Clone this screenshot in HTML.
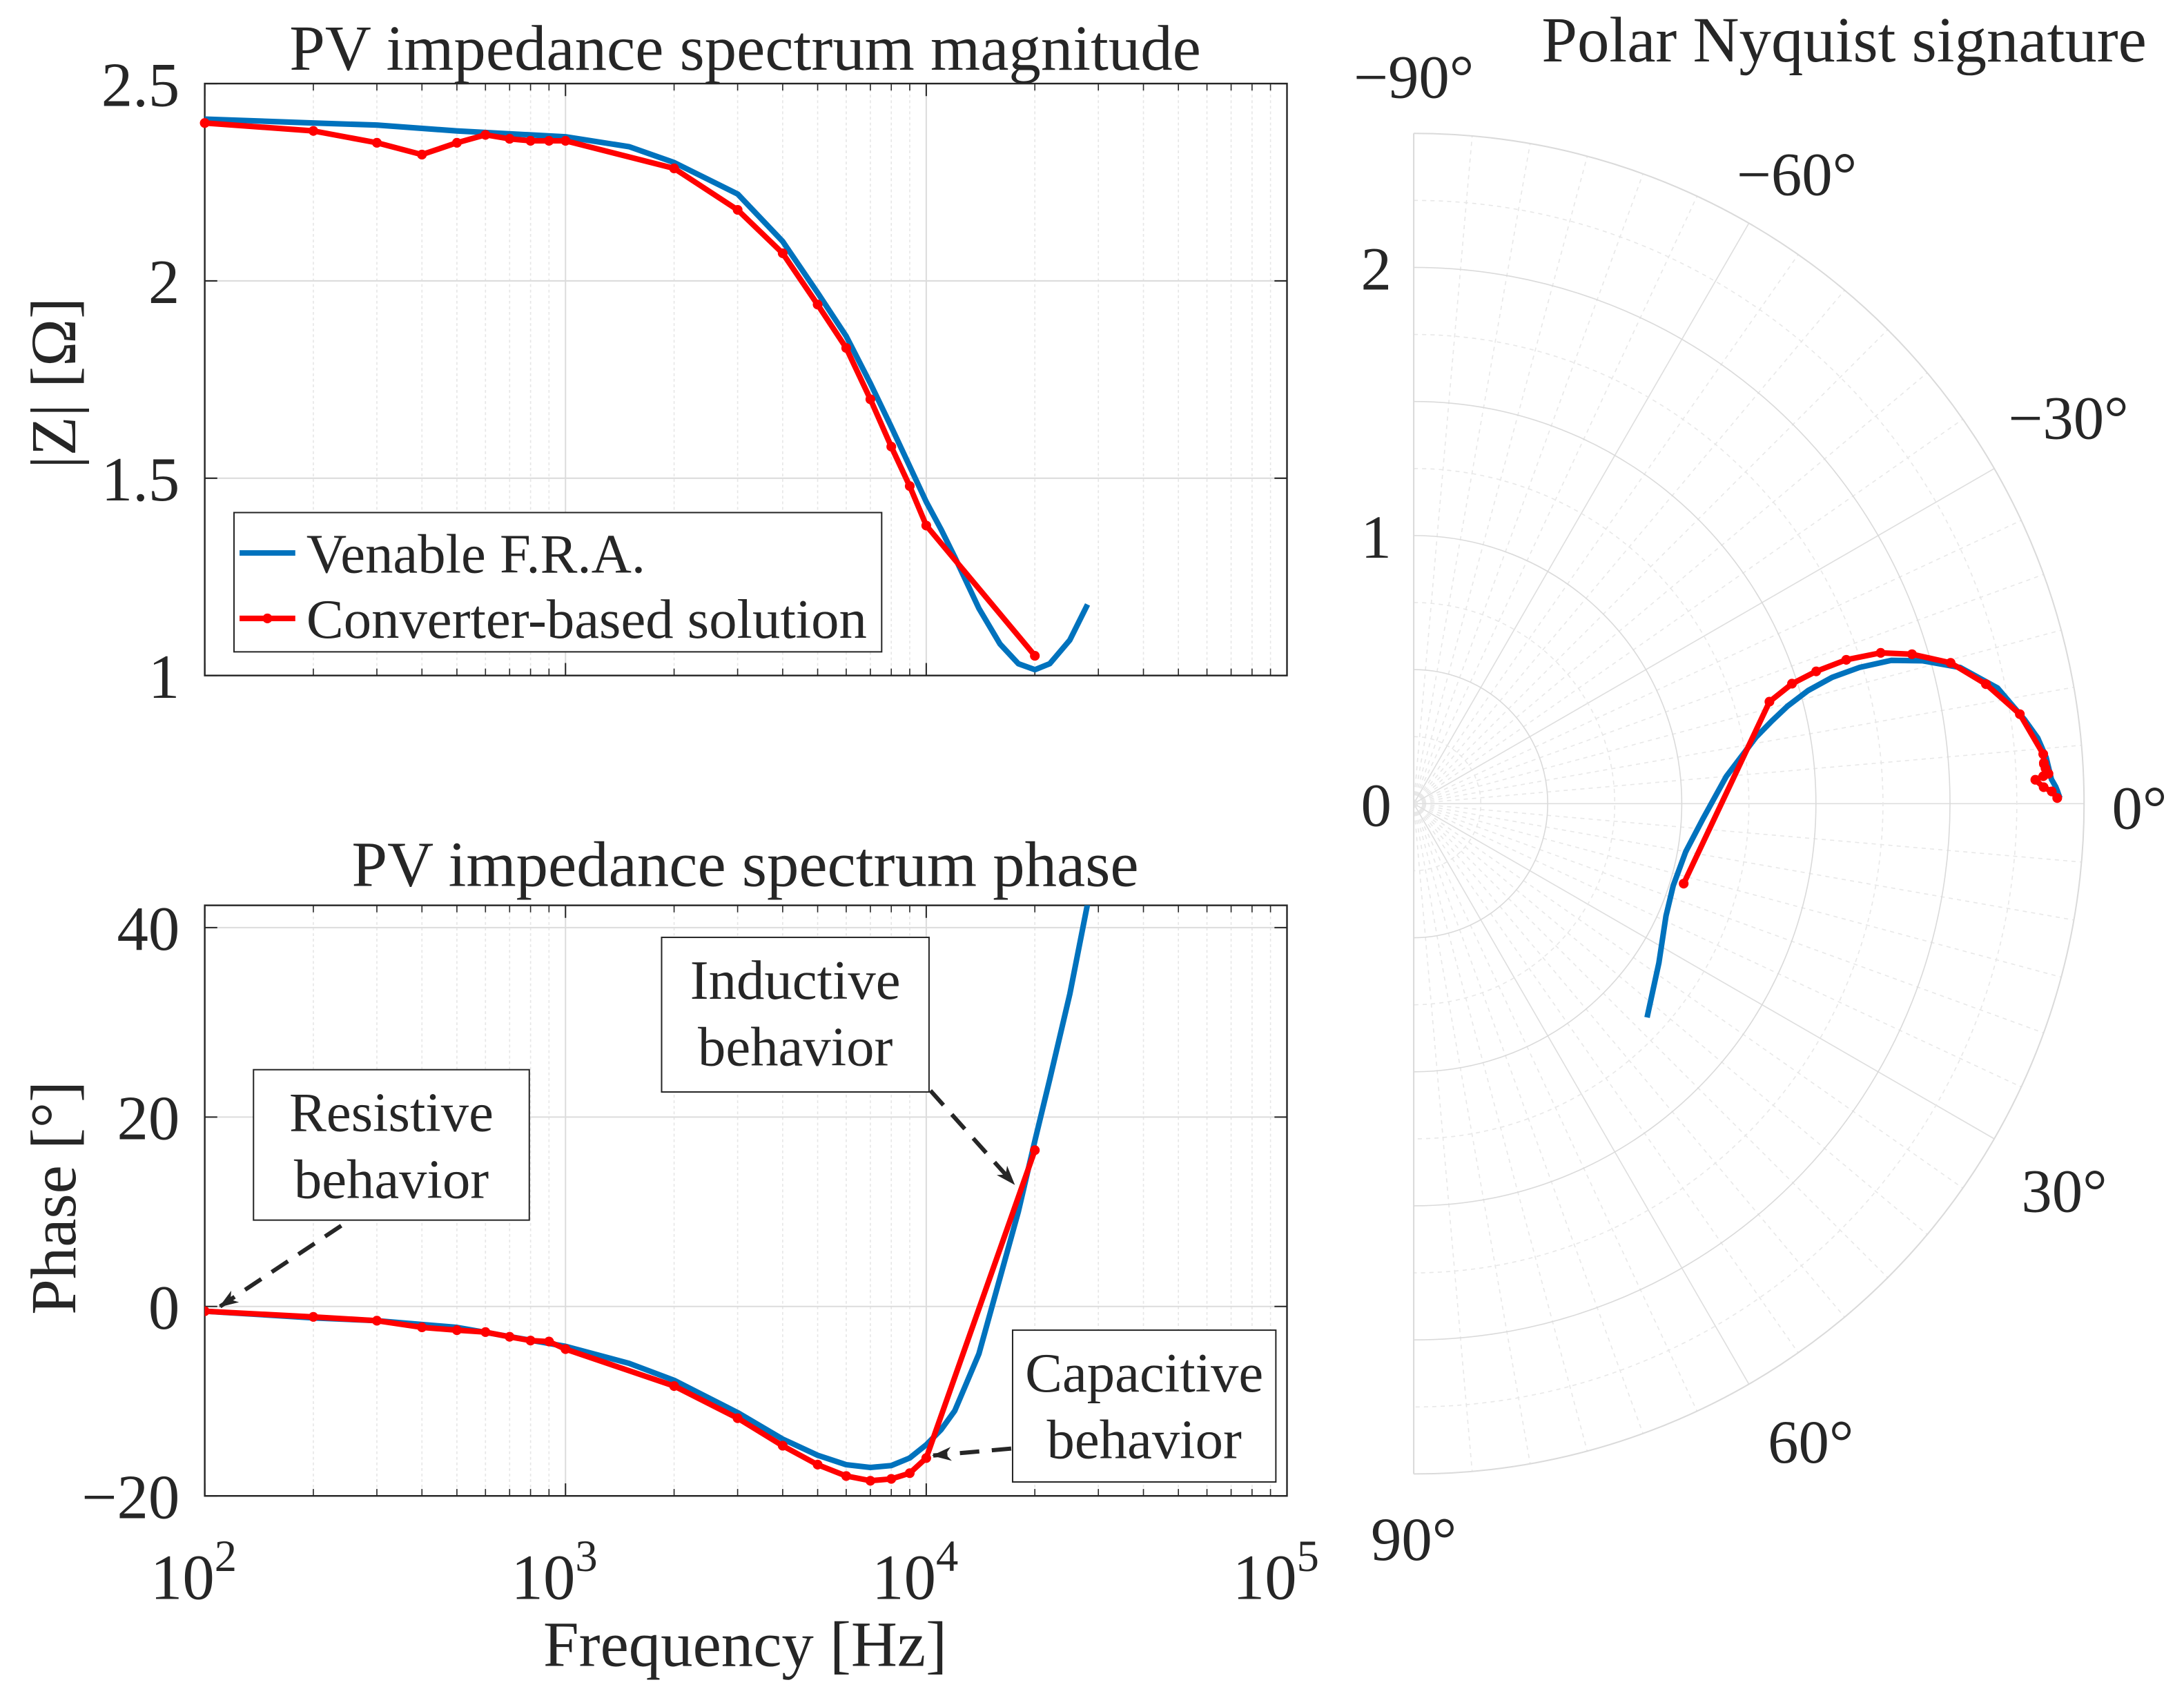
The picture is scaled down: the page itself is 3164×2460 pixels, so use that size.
<!DOCTYPE html>
<html><head><meta charset="utf-8"><style>
html,body{margin:0;padding:0;background:#fff;}
svg{display:block;}
text{font-family:"Liberation Serif",serif;fill:#262626;}
</style></head>
<body>
<svg id="fig" width="3164" height="2460" viewBox="0 0 1568 1219.1" preserveAspectRatio="none" xmlns="http://www.w3.org/2000/svg">
<g id="g-mag"></g>
<g id="g-ph"></g>
<g id="g-pol"></g>
</svg>
<script>
// ---- data ----
const redFreq = [100,200,300,400,500,600,700,800,900,1000,2000,3000,4000,5000,6000,7000,8000,9000,10000,20000];
const redMag = [2.40,2.38,2.35,2.32,2.35,2.37,2.36,2.355,2.355,2.355,2.285,2.18,2.07,1.94,1.83,1.70,1.58,1.48,1.38,1.05];
const redPhase = [-0.5,-1.1,-1.5,-2.2,-2.5,-2.7,-3.2,-3.6,-3.7,-4.5,-8.4,-11.8,-14.7,-16.7,-17.9,-18.4,-18.2,-17.6,-16.0,16.5];
const blueFreq = [100,200,300,500,1000,1500,2000,3000,4000,5000,6000,7000,8000,9000,10000,11000,12000,14000,16000,18000,20000,22000,25000,28000];
const blueMag = [2.41,2.40,2.395,2.38,2.365,2.34,2.30,2.22,2.10,1.97,1.86,1.74,1.63,1.53,1.44,1.37,1.30,1.17,1.08,1.03,1.015,1.03,1.09,1.18];
const bluePhase = [-0.5,-1.2,-1.5,-2.2,-4.2,-6,-7.8,-11.2,-14.0,-15.7,-16.7,-17.0,-16.8,-16.0,-14.6,-13,-11,-5,3,10,17.5,24,33,42.5];
const magTicks = [1,1.5,2,2.5];
const magTickLabels = ["1","1.5","2","2.5"];
const phTicks = [-20,0,20,40];
const phTickLabels = ["\u221220","0","20","40"];
const decades = [2,3,4,5];
const polarRTicks = [0,1,2];
const polarAngTicks = [-90,-60,-30,0,30,60,90];

const NS = "http://www.w3.org/2000/svg";
function mk(parent, tag, attrs){const e=document.createElementNS(NS,tag);for(const k in attrs)e.setAttribute(k,attrs[k]);parent.appendChild(e);return e;}

const X0=147,X1=924;
function xs(f){return X0+(Math.log10(f)-2)*(X1-X0)/3;}
function ym(v){return 485-(v-1)*(425/1.5);}
function yp(v){return 938-v*(136/20);}

function axesFrame(g,top,bot,yTicks,yLabels,yf,title,titleY,ylab,ylabY,showX){
  for(let d=2;d<5;d++)for(let m=2;m<10;m++){
    const x=xs(m*Math.pow(10,d));
    const l=mk(g,'line',{x1:x,x2:x,y1:top,y2:bot,stroke:'#e6e6e6','stroke-width':0.8,'stroke-dasharray':'2,2'});
    
    
    mk(g,'line',{x1:x,x2:x,y1:bot,y2:bot-5,stroke:'#262626','stroke-width':0.8});
    mk(g,'line',{x1:x,x2:x,y1:top,y2:top+5,stroke:'#262626','stroke-width':0.8});
  }
  decades.forEach(d=>{const x=xs(Math.pow(10,d));
    const l=mk(g,'line',{x1:x,x2:x,y1:top,y2:bot,stroke:'#dcdcdc','stroke-width':1});
    
    
    mk(g,'line',{x1:x,x2:x,y1:bot,y2:bot-9,stroke:'#262626','stroke-width':1});
    mk(g,'line',{x1:x,x2:x,y1:top,y2:top+9,stroke:'#262626','stroke-width':1});
    if(showX){const t=mk(g,'text',{x:x-8,y:bot+74,'font-size':46,'text-anchor':'middle'});
      
      
      t.textContent='10';const s=mk(t,'tspan',{dy:-20,'font-size':32});s.textContent=d;}
  });
  yTicks.forEach((v,i)=>{const y=yf(v);
    const l=mk(g,'line',{x1:X0,x2:X1,y1:y,y2:y,stroke:'#dcdcdc','stroke-width':1});
    
    
    mk(g,'line',{x1:X0,x2:X0+9,y1:y,y2:y,stroke:'#262626','stroke-width':1});
    mk(g,'line',{x1:X1,x2:X1-9,y1:y,y2:y,stroke:'#262626','stroke-width':1});
    const t=mk(g,'text',{x:X0-18,y:y+16,'font-size':45,'text-anchor':'end'});
    
    
    t.textContent=yLabels[i];
  });
  const r=mk(g,'rect',{x:X0,y:top,width:X1-X0,height:bot-top,fill:'none',stroke:'#262626','stroke-width':1.2});
  
  
  const tt=mk(g,'text',{x:535,y:titleY,'font-size':46,'text-anchor':'middle'});
  
  
  tt.textContent=title;
  const yl=mk(g,'text',{x:0,y:0,'font-size':46,'text-anchor':'middle',transform:`translate(54,${ylabY}) rotate(-90)`});
  
  
  yl.textContent=ylab;
}

function series(g,xsArr,ysArr,color,w,markers,name){
  const pts=xsArr.map((x,i)=>x.toFixed(1)+','+ysArr[i].toFixed(1)).join(' ');
  const p=mk(g,'polyline',{points:pts,fill:'none',stroke:color,'stroke-width':w,'stroke-linejoin':'round'});
  
  
  if(markers)xsArr.forEach((x,i)=>{const c=mk(g,'circle',{cx:x,cy:ysArr[i],r:3.5,fill:color});
    
    });
}

// magnitude
const gm=document.getElementById('g-mag');
axesFrame(gm,60,485,magTicks,magTickLabels,ym,'PV impedance spectrum magnitude',50,'|Z| [\u03A9]',275,false);
series(gm,blueFreq.map(xs),blueMag.map(ym),'#0072BD',4,false,'venable-magnitude-line');
series(gm,redFreq.map(xs),redMag.map(ym),'#FF0000',4,true,'converter-magnitude-line');
const lg=mk(gm,'g',{});


mk(lg,'rect',{x:168,y:368,width:465,height:100,fill:'#fff',stroke:'#262626','stroke-width':1});
mk(lg,'line',{x1:172,x2:212,y1:397,y2:397,stroke:'#0072BD','stroke-width':4});
const l1=mk(lg,'text',{x:220,y:411,'font-size':40});l1.textContent='Venable F.R.A.';


mk(lg,'line',{x1:172,x2:212,y1:444,y2:444,stroke:'#FF0000','stroke-width':4});
mk(lg,'circle',{cx:192,cy:444,r:3.5,fill:'#FF0000'});
const l2=mk(lg,'text',{x:220,y:458,'font-size':40});l2.textContent='Converter-based solution';



// phase
const gp=document.getElementById('g-ph');
axesFrame(gp,650,1074,phTicks,phTickLabels,yp,'PV impedance spectrum phase',636,'Phase [\u00B0]',860,true);
const xt=mk(gp,'text',{x:535,y:1196,'font-size':46,'text-anchor':'middle'});


xt.textContent='Frequency [Hz]';
const clip=mk(gp,'clipPath',{id:'cp'});mk(clip,'rect',{x:X0,y:650,width:X1-X0,height:424});
const gpc=mk(gp,'g',{'clip-path':'url(#cp)'});
series(gpc,blueFreq.map(xs),bluePhase.map(yp),'#0072BD',4,false,'venable-phase-line');
series(gpc,redFreq.map(xs),redPhase.map(yp),'#FF0000',4,true,'converter-phase-line');
const defs=mk(gp,'defs',{});
const mkr=mk(defs,'marker',{id:'ah',markerWidth:14,markerHeight:12,refX:13,refY:6,orient:'auto',markerUnits:'userSpaceOnUse'});
mk(mkr,'path',{d:'M0,1 L14,6 L0,11 L4,6 Z',fill:'#262626'});
function annot(bx,by,bw,bh,lines,ax1,ay1,ax2,ay2,name){
  const g=mk(gp,'g',{});
  
  
  mk(g,'rect',{x:bx,y:by,width:bw,height:bh,fill:'#fff',stroke:'#262626','stroke-width':1});
  lines.forEach((s,i)=>{const t=mk(g,'text',{x:bx+bw/2,y:by+44+i*48,'font-size':40,'text-anchor':'middle'});t.textContent=s;});
  mk(g,'line',{x1:ax1,y1:ay1,x2:ax2,y2:ay2,stroke:'#262626','stroke-width':3,'stroke-dasharray':'14,9','marker-end':'url(#ah)'});
}
annot(182,768,198,108,['Resistive','behavior'],245,880,158,938,'resistive-annotation');
annot(475,673,192,111,['Inductive','behavior'],668,783,728,850,'inductive-annotation');
annot(727,955,189,109,['Capacitive','behavior'],726,1040,670,1045,'capacitive-annotation');

// polar
const gq=document.getElementById('g-pol');
const CX=1015,CY=577,RS=192.5,RMAX=2.5;
function px(r,a){return CX+r*RS*Math.cos(a*Math.PI/180);}
function py(r,a){return CY+r*RS*Math.sin(a*Math.PI/180);}
for(let a=-90;a<=90;a+=5){
  const l=mk(gq,'line',{x1:CX,y1:CY,x2:px(RMAX,a),y2:py(RMAX,a),stroke:a%30===0?'#dedede':'#e8e8e8','stroke-width':0.8,'stroke-dasharray':a%30===0?'':'3,3'});
  
  
}
for(let k=1;k<=10;k++){const r=k*0.25;
  const c=mk(gq,'path',{d:`M${px(r,-90)},${py(r,-90)} A${r*RS},${r*RS} 0 0 1 ${px(r,90)},${py(r,90)}`,fill:'none',stroke:k%2===0?'#dadada':'#e8e8e8','stroke-width':k===10?1:0.8,'stroke-dasharray':k%2===0?'':'3,3'});
  
  
}
mk(gq,'line',{x1:CX,y1:py(RMAX,-90),x2:CX,y2:py(RMAX,90),stroke:'#dadada','stroke-width':1});
polarRTicks.forEach(r=>{const t=mk(gq,'text',{x:CX-16,y:CY-r*RS+16,'font-size':44,'text-anchor':'end'});
  
  
  t.textContent=r;});
const angPos = {"-90":[1015,55],"-60":[1290,125],"-30":[1485,300],"0":[1536,580],"30":[1482,855],"60":[1300,1035],"90":[1015,1105]};
polarAngTicks.forEach(a=>{const p=angPos[String(a)];
  const t=mk(gq,'text',{x:p[0],y:p[1]+15,'font-size':44,'text-anchor':'middle'});
  
  
  t.textContent=(a<0?'\u2212'+(-a):a)+'\u00B0';});
const pt=mk(gq,'text',{x:1324,y:44,'font-size':46,'text-anchor':'middle'});


pt.textContent='Polar Nyquist signature';
series(gq,blueMag.map((m,i)=>px(m,bluePhase[i])),blueMag.map((m,i)=>py(m,bluePhase[i])),'#0072BD',4,false,'venable-nyquist-line');
series(gq,redMag.map((m,i)=>px(m,redPhase[i])),redMag.map((m,i)=>py(m,redPhase[i])),'#FF0000',4,true,'converter-nyquist-line');
</script>
</body></html>
